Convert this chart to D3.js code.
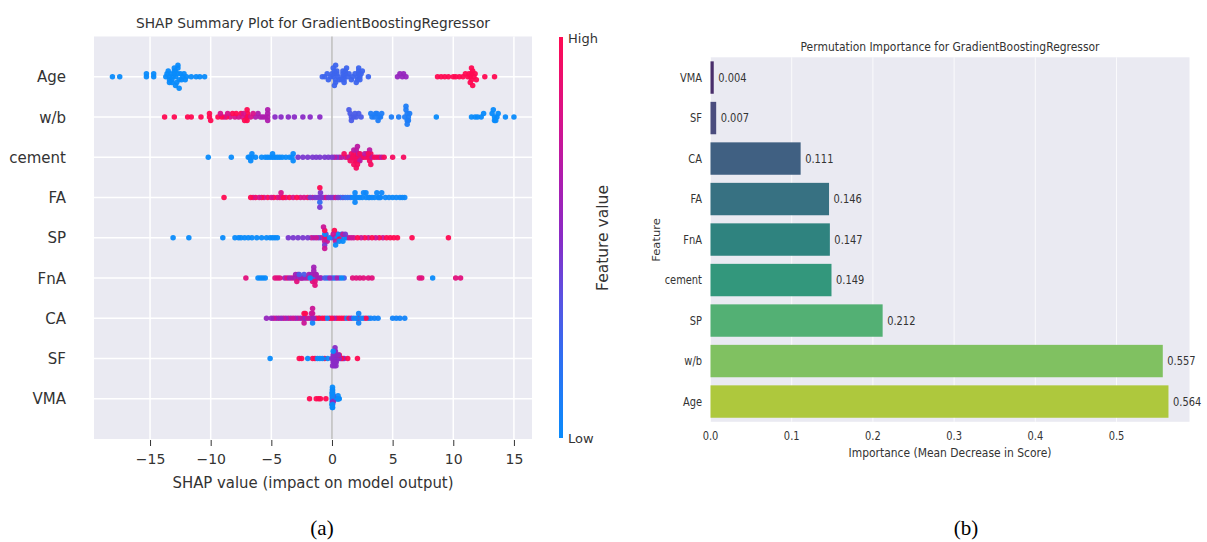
<!DOCTYPE html>
<html>
<head>
<meta charset="utf-8">
<script src="https://cdn.jsdelivr.net/npm/d3@7"></script>
<style>
  body { margin: 0; background: #fff; }
  text { font-family: "DejaVu Sans", sans-serif; fill: #333; }
</style>
</head>
<body>
<svg id="chart" width="1207" height="542"></svg>
<script>
// ---------- data: SHAP summary (a) ----------
// rows from bottom to top
const shapFeatures = ["VMA", "SF", "CA", "FnA", "SP", "FA", "cement", "w/b", "Age"];
const shapTicks = [-15, -10, -5, 0, 5, 10, 15];

// each group: [feature value (0 = low, 1 = high), SHAP values]
const shapAge = [
  [0.0, [-18.1, -17.5, -15.3, -15.3, -14.7, -14.7, -13.7, -13.6, -13.5, -13.4, -13.4, -13.4, -13.3, -13.2, -13.2, -13.1, -13.0, -13.0, -13.0, -12.9, -12.9, -12.9, -12.8, -12.7, -12.7, -12.7, -12.6, -12.6, -12.5, -12.4, -12.3, -12.2, -12.1, -12.0, -11.6, -11.2, -10.9, -10.5]],
  [0.25, [-0.8, -0.6, -0.4, -0.3, -0.1, 0.0, 0.1, 0.1, 0.2, 0.2, 0.2, 0.3, 0.3, 0.3, 0.4, 0.4, 0.5, 0.6, 0.8, 0.9, 0.9, 0.9, 1.0, 1.0, 1.0, 1.1, 1.1, 1.2, 1.3, 1.4, 1.6, 1.7, 1.9, 2.0, 2.1, 2.1, 2.2, 2.2, 2.2, 2.3, 2.3, 2.4, 2.5, 3.0]],
  [0.55, [5.4, 5.6, 5.8, 5.9, 6.1]],
  [1.0, [8.7, 9.0, 9.3, 9.6, 10.0, 10.2, 10.5, 10.8, 11.0, 11.2, 11.3, 11.4, 11.4, 11.5, 11.5, 11.5, 11.6, 11.6, 11.7, 11.8, 11.9, 12.6, 13.4]]
];
const shapWB = [
  [1.0, [-13.8, -13.0, -11.9, -11.6, -10.8, -10.1, -10.1, -10.0, -9.4, -9.1, -8.7, -8.2, -7.9, -7.5, -7.2, -7.0, -7.0, -7.0, -6.95]],
  [0.8, [-9.2, -8.9, -8.6, -8.4, -8.0, -7.7, -7.4, -7.3, -7.05, -6.7, -6.5]],
  [0.65, [-6.3, -6.1, -5.9, -5.7, -5.5, -5.3, -5.3, -5.3, -5.3]],
  [0.5, [-4.7, -4.2, -3.6, -3.1, -2.4, -1.8, -1.0]],
  [0.3, [1.4, 1.5, 1.6, 1.6, 1.8, 1.9, 2.0, 2.2, 2.4]],
  [0.1, [3.2, 3.3, 3.5, 3.6, 3.7, 3.8, 3.9, 4.0, 4.1, 4.9, 5.5, 6.0, 6.1, 6.1, 6.2, 6.2, 6.2, 6.3, 6.3, 6.4]],
  [0.0, [8.6, 11.5, 11.8, 12.0, 12.3, 12.5, 13.2, 13.3, 13.4, 13.4, 13.5, 13.6, 13.7, 14.3, 15.0]]
];
const shapCement = [
  [0.0, [-10.2, -8.3, -6.9, -6.8, -6.7, -6.6, -6.6, -6.3, -5.8, -5.5, -5.3, -5.1, -4.9, -4.9, -4.7, -4.5, -4.3, -4.1, -3.8, -3.5, -3.3, -3.2, -3.2]],
  [0.45, [-2.8, -2.4, -2.0, -1.6, -1.3, -1.0, -0.6, -0.3, 0.0, 0.4]],
  [0.7, [0.2, 0.6, 0.8, 1.1, 1.4, 1.6, 1.8, 2.0, 2.0, 2.1, 2.2, 2.3, 2.5, 2.7, 2.9, 3.1, 3.1, 3.3, 3.7, 4.1]],
  [0.95, [1.0, 1.3, 1.5, 1.6, 1.7, 1.8, 1.8, 1.9, 1.9, 2.0, 2.0, 2.1, 2.1, 2.2, 2.2, 2.3, 2.4, 2.6, 2.8, 3.0, 3.0, 3.1, 3.2, 3.2, 3.5, 3.9, 4.3, 5.0, 5.9]]
];
const shapFA = [
  [1.0, [-8.9, -6.7, -6.3, -5.8, -5.3, -4.8, -4.3, -4.0, -3.5, -2.9, -2.0, -1.0]],
  [0.8, [-6.5, -6.0, -5.6, -5.0, -4.5, -4.2, -4.1, -3.8, -3.2, -2.6, -2.3, -1.6, -0.5, 0.3]],
  [0.45, [-1.8, -1.4, -1.2, -1.05, -1.0, -0.95, -0.9, -0.7, -0.3, -0.1, 0.1, 0.5, 0.9]],
  [0.2, [-1.0, 0.7, 1.1, 1.3, 1.5, 1.9]],
  [0.02, [1.7, 1.9, 1.9, 2.1, 2.3, 2.5, 2.6, 2.8, 2.8, 3.0, 3.1, 3.3, 3.5, 3.7, 3.8, 3.9, 4.0, 4.1, 4.4, 4.7, 5.0, 5.3, 5.6, 5.8, 6.0]]
];
const shapSP = [
  [0.0, [-13.1, -11.8, -9.0, -8.0, -7.7, -7.5, -7.2, -6.9, -6.6, -6.2, -5.8, -5.4, -5.1, -4.9, -4.7, -4.5, -0.6, -0.2, 0.2, 0.3, 0.4, 0.6, 0.8, 0.9, 1.0, 1.2]],
  [0.45, [-3.6, -3.2, -2.8, -2.4, -2.0, -1.5, -1.1, -0.6, -0.6, -0.5, 0.0, 0.5, 1.1]],
  [0.75, [-1.7, -1.3, -0.9, -0.7, -0.6, -0.6, -0.4, 0.1, 0.3, 0.7, 0.9, 1.4, 1.6, 1.8, 2.4, 3.0, 3.6, 4.2]],
  [1.0, [-0.6, -0.5, 0.2, 0.5, 2.1, 2.7, 3.3, 3.9, 4.5, 4.8, 5.1, 5.4, 6.6, 9.6]]
];
const shapFnA = [
  [0.85, [-7.1, -4.7, -4.5, -4.3, -3.7, -3.3, -2.9, -2.5, -2.0, -1.6, -1.4, -1.4, -1.4, -1.2, 1.7, 2.0, 2.3, 2.6, 3.0, 3.3, 7.2, 7.4, 10.2, 10.6]],
  [0.6, [-3.9, -3.5, -3.1, -3.0, -2.8, -2.8, -2.6, -2.4, -2.2, -1.9, -1.7, -1.5, -1.5, -1.4, -1.3, -1.0, -0.9, -0.2, 0.4]],
  [0.3, [-2.7, -2.3, -1.6, -0.6, 0.0, 0.6, 1.0]],
  [0.0, [-6.1, -5.9, -5.7, -5.5, -1.8, -0.4, 0.2, 0.8, 8.3]]
];
const shapCA = [
  [0.55, [-5.4, -5.0, -4.6, -4.2, -3.8, -3.4, -3.0, -2.6, -2.2, -1.8, -1.6, -1.5, 0.2, 1.6]],
  [0.75, [-4.8, -4.4, -4.0, -3.6, -3.2, -2.8, -2.4, -2.3, -2.3, -2.0, -1.7, -1.6, -1.6]],
  [1.0, [-2.3, -2.2, -1.3, -1.1, -0.8, -0.6, -0.2, 0.0, 0.4, 0.6, 0.8, 1.0, 1.4, 2.2, 2.8]],
  [0.05, [-1.6, -1.0, -0.4, 1.2, 1.8, 2.0, 2.1, 2.2, 2.2, 2.4, 2.6, 3.0, 3.2, 3.5, 3.8, 5.0, 5.3, 5.6, 6.0]]
];
const shapSF = [
  [0.0, [-5.1, -2.0, -1.2, -1.0, -0.8, -0.35, 0.1]],
  [1.0, [-2.7, -2.5, -1.6, -1.4, -0.6, 0.6, 0.8, 1.3, 2.1]],
  [0.5, [0.0, 0.05, 0.1, 0.1, 0.12, 0.15, 0.15, 0.18, 0.2, 0.2, 0.2, 0.22, 0.25, 0.25, 0.28, 0.3, 0.3, 0.3, 0.33, 0.35, 0.35, 0.4, 0.45, 0.5, 0.55, 0.6, 0.7, 0.9, 1.0]]
];
const shapVMA = [
  [1.0, [-1.85, -1.3, -1.1, -0.95, -0.5]],
  [0.55, [0.05, 0.08, 0.1]],
  [0.0, [0.0, 0.01, 0.02, 0.02, 0.02, 0.03, 0.03, 0.03, 0.03, 0.04, 0.04, 0.04, 0.04, 0.05, 0.05, 0.05, 0.06, 0.06, 0.07, 0.08, 0.1, 0.12, 0.15, 0.2, 0.3, 0.4, 0.45, 0.5, 0.5, 0.55, 0.6]]
];
const shapRows = { "VMA": shapVMA, "SF": shapSF, "CA": shapCA, "FnA": shapFnA, "SP": shapSP,
                   "FA": shapFA, "cement": shapCement, "w/b": shapWB, "Age": shapAge };

// ---------- data: permutation importance (b) ----------
const permFeatures = ["VMA", "SF", "CA", "FA", "FnA", "cement", "SP", "w/b", "Age"];
const permValues = [0.004, 0.007, 0.111, 0.146, 0.147, 0.149, 0.212, 0.557, 0.564];
const permTicks = [0, 0.1, 0.2, 0.3, 0.4, 0.5];

const svg = d3.select("#chart");

// shap style beeswarm: quantise into 100 bins and stack points within a bin
function beeswarm(vals) {
  const n = vals.length, nbins = 100;
  const lo = d3.min(vals), hi = d3.max(vals);
  const quant = vals.map(v => Math.round(nbins * (v - lo) / (hi - lo + 1e-8)));
  const key = d3.range(n).map(i => (i * 37) % n);
  const order = d3.range(n).sort((a, b) => quant[a] - quant[b] || key[a] - key[b]);
  const ys = new Array(n).fill(0);
  let layer = 0, last = -1;
  order.forEach(i => {
    if (quant[i] !== last) layer = 0;
    ys[i] = Math.ceil(layer / 2) * ((layer % 2) * 2 - 1);
    layer++;
    last = quant[i];
  });
  const top = d3.max(ys) + 1;
  return { ys: ys.map(v => v * 0.9 * (0.4 / top)), key };
}

// ================= (a) SHAP summary plot =================
const x = d3.scaleLinear().domain([-19.62, 16.49]).range([94, 532]);
const y = d3.scaleLinear().domain([-1, 9]).range([439, 36.5]);
// low -> high colour map, stops picked off the reference colour bar
const color = d3.scaleLinear()
  .domain([0, 0.2, 0.35, 0.5, 0.65, 0.8, 1])
  .range(["#0a8bfb", "#2f6ff2", "#5a52e2", "#8a2bc6", "#ae1cae", "#d8128a", "#ff0a52"]);

const left = svg.append("g");
left.append("rect")
  .attr("x", x.range()[0]).attr("y", y.range()[1])
  .attr("width", x.range()[1] - x.range()[0])
  .attr("height", y.range()[0] - y.range()[1])
  .attr("fill", "#eaeaf2");

left.selectAll(".vgrid").data(shapTicks).join("line")
  .attr("x1", d => x(d)).attr("x2", d => x(d))
  .attr("y1", y.range()[1]).attr("y2", y.range()[0])
  .attr("stroke", "#fff").attr("stroke-width", 1.5);

left.selectAll(".hgrid").data(shapFeatures).join("line")
  .attr("x1", x.range()[0]).attr("x2", x.range()[1])
  .attr("y1", (d, i) => y(i)).attr("y2", (d, i) => y(i))
  .attr("stroke", "#fff").attr("stroke-width", 1.5);

left.append("line")
  .attr("x1", x(0)).attr("x2", x(0))
  .attr("y1", y.range()[1]).attr("y2", y.range()[0])
  .attr("stroke", "#999").attr("stroke-width", 1);

// dots
shapFeatures.forEach((f, row) => {
  const pts = shapRows[f].flatMap(([fv, vals]) => vals.map(v => ({ v, fv })));
  const sw = beeswarm(pts.map(p => p.v));
  pts.forEach((p, i) => { p.y = row + sw.ys[i]; p.k = sw.key[i]; });
  pts.sort((a, b) => a.k - b.k);
  left.append("g").selectAll("circle").data(pts).join("circle")
    .attr("cx", d => x(d.v))
    .attr("cy", d => y(d.y))
    .attr("r", 2.75)
    .attr("fill", d => color(d.fv))
    .attr("opacity", 0.95);
});

// y labels
left.selectAll(".ylab").data(shapFeatures).join("text")
  .attr("x", 66).attr("y", (d, i) => y(i) + 5.5)
  .attr("text-anchor", "end")
  .style("font-size", "15px")
  .text(d => d);

// x axis
const xAxis = left.append("g")
  .attr("transform", `translate(0,${y.range()[0]})`)
  .call(d3.axisBottom(x).tickValues(shapTicks).tickSize(6).tickPadding(9));
xAxis.select(".domain").remove();
xAxis.selectAll("line").attr("stroke", "#333").attr("transform", "translate(0,1)");
xAxis.selectAll("text").style("font-size", "14px").attr("fill", "#333")
  .style("font-family", "DejaVu Sans");

left.append("text")
  .attr("x", 313).attr("y", 488)
  .attr("text-anchor", "middle")
  .attr("textLength", 281).attr("lengthAdjust", "spacingAndGlyphs")
  .style("font-size", "15px")
  .text("SHAP value (impact on model output)");

left.append("text")
  .attr("x", 313).attr("y", 28)
  .attr("text-anchor", "middle")
  .attr("textLength", 354).attr("lengthAdjust", "spacingAndGlyphs")
  .style("font-size", "14px")
  .text("SHAP Summary Plot for GradientBoostingRegressor");

// colour bar
const grad = svg.append("defs").append("linearGradient")
  .attr("id", "shapGrad").attr("x1", 0).attr("y1", 1).attr("x2", 0).attr("y2", 0);
d3.range(0, 1.0001, 0.05).forEach(t => {
  grad.append("stop").attr("offset", t).attr("stop-color", color(t));
});
svg.append("rect")
  .attr("x", 559).attr("y", 37).attr("width", 4).attr("height", 401)
  .attr("fill", "url(#shapGrad)");
svg.append("text").attr("x", 568).attr("y", 43).style("font-size", "13px").text("High");
svg.append("text").attr("x", 568).attr("y", 443).style("font-size", "13px").text("Low");
svg.append("text")
  .attr("transform", "translate(603,238) rotate(-90)")
  .attr("text-anchor", "middle").attr("dominant-baseline", "central")
  .style("font-size", "15.5px")
  .text("Feature value");

// ================= (b) permutation importance =================
const xr = d3.scaleLinear().domain([0, 0.5899]).range([710.5, 1189.5]);
const yr = d3.scaleBand().domain(permFeatures).range([57.3, 421.8])
  .paddingInner(0.2).paddingOuter(0.1);
const barColor = permFeatures.map((d, i) => {
  const c = d3.hsl(d3.interpolateViridis(0.1 * (i + 1)));
  c.s *= 0.75;
  return c.formatHex();
});

// squeezed text, the panel was shrunk horizontally
function sqText(g, px, py, str, size, anchor, rot) {
  return g.append("text")
    .attr("transform", `translate(${px},${py})${rot ? " rotate(-90)" : ""} scale(${rot ? 1 : 0.86},${rot ? 0.86 : 1})`)
    .attr("text-anchor", anchor)
    .style("font-size", size + "px")
    .text(str);
}

const right = svg.append("g");
right.append("rect")
  .attr("x", xr.range()[0]).attr("y", yr.range()[0])
  .attr("width", xr.range()[1] - xr.range()[0])
  .attr("height", yr.range()[1] - yr.range()[0])
  .attr("fill", "#eaeaf2");

right.selectAll(".vgrid").data(permTicks).join("line")
  .attr("x1", d => xr(d)).attr("x2", d => xr(d))
  .attr("y1", yr.range()[0]).attr("y2", yr.range()[1])
  .attr("stroke", "#fff").attr("stroke-width", 1).attr("opacity", 0.8);

right.selectAll(".bar").data(permFeatures).join("rect")
  .attr("x", xr(0))
  .attr("y", d => yr(d))
  .attr("width", (d, i) => xr(permValues[i]) - xr(0))
  .attr("height", yr.bandwidth())
  .attr("fill", (d, i) => barColor[i]);

permFeatures.forEach((f, i) => {
  const cy = yr(f) + yr.bandwidth() / 2;
  sqText(right, xr(permValues[i]) + 4.5, cy + 4, permValues[i].toFixed(3), 11.5, "start");
  sqText(right, 702, cy + 4, f, 11.5, "end");
});
permTicks.forEach(t => {
  sqText(right, xr(t), 440, t.toFixed(1), 11.5, "middle");
});
sqText(right, 950, 457, "Importance (Mean Decrease in Score)", 12.5, "middle");
sqText(right, 950, 51, "Permutation Importance for GradientBoostingRegressor", 12.5, "middle");
sqText(right, 660, 240, "Feature", 11.5, "middle", true);

// captions
svg.selectAll(".cap").data([["(a)", 322], ["(b)", 966]]).join("text")
  .attr("x", d => d[1]).attr("y", 535)
  .attr("text-anchor", "middle")
  .style("font-family", "'Liberation Serif', serif")
  .style("font-size", "21px")
  .style("fill", "#000")
  .text(d => d[0]);
</script>
</body>
</html>
